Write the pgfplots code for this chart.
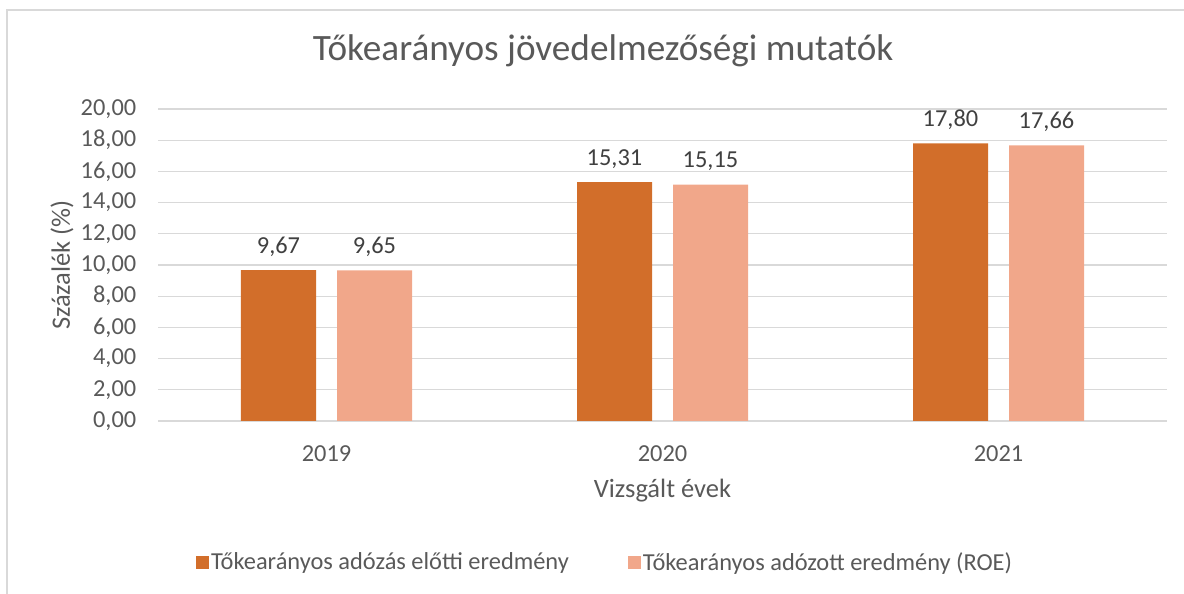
\documentclass[border=0pt]{standalone}
\usepackage{pgfplots}
\pgfplotsset{compat=1.18}
\usepackage{fontspec}
\setmainfont{Carlito}
\definecolor{txt}{HTML}{595959}
\definecolor{lbl}{HTML}{404040}
\definecolor{gridc}{HTML}{D9D9D9}
\definecolor{orA}{HTML}{D26E2A}
\definecolor{orB}{HTML}{F1A78A}
\begin{document}
\begin{tikzpicture}[x=1pt,y=1pt]
\path[use as bounding box] (0,0) rectangle (1184,594);
\draw[gridc, line width=1.2pt] (7,0) -- (7,584) -- (1184,584);
\begin{axis}[
  at={(158.5pt,173pt)}, anchor=south west,
  scale only axis, width=1008pt, height=312pt,
  xmin=-0.5, xmax=2.5, ymin=0, ymax=20,
  ybar=21pt, bar width=75pt,
  xtick={0,1,2}, xticklabels={2019,2020,2021},
  ytick={0,2,...,20},
  ymajorgrids, xmajorgrids=false, major grid style={draw=gridc, line width=1.3pt},
  axis line style={draw=none},
  major tick length=0pt,
  tick label style={font=\fontsize{24.4}{29}\selectfont, text=txt},
  /pgf/number format/assume math mode=true,
  yticklabel style={/pgf/number format/fixed, /pgf/number format/fixed zerofill, /pgf/number format/precision=2, /pgf/number format/use comma,
    anchor=east, inner sep=0pt, xshift=-22pt},
  xticklabel style={anchor=north, inner sep=0pt, yshift=-24pt},
  xlabel={Vizsgált évek},
  xlabel style={at={(axis description cs:0.5,-0.2468)}, anchor=base, font=\fontsize{26.5}{31}\selectfont, text=txt, inner sep=0pt},
  ylabel={Százalék (\%)},
  ylabel style={at={(axis description cs:-0.0878,0.5)}, anchor=base, font=\fontsize{26.5}{31}\selectfont, text=txt, inner sep=0pt},
  title={Tőkearányos jövedelmezőségi mutatók},
  title style={at={(axis description cs:0.441,1.1346)}, anchor=base, font=\fontsize{37.2}{44}\selectfont, text=txt, inner sep=0pt},
  nodes near coords,
  nodes near coords style={anchor=base, yshift=17pt, inner sep=0pt, font=\fontsize{24.4}{29}\selectfont, text=lbl,
    /pgf/number format/fixed, /pgf/number format/fixed zerofill, /pgf/number format/precision=2, /pgf/number format/use comma, /pgf/number format/assume math mode=true},
  legend columns=2,
  legend style={at={(axis description cs:0.443,-0.452)}, anchor=center, draw=none, fill=none,
    font=\fontsize{24.4}{29}\selectfont, text=txt,
    /tikz/every even column/.append style={column sep=57pt}},
  legend image code/.code={\fill[#1] (0pt,-6.5pt) rectangle (13pt,6.5pt);},
]
\addplot[fill=orA, draw=none] coordinates {(0,9.67) (1,15.31) (2,17.80)};
\addplot[fill=orB, draw=none] coordinates {(0,9.65) (1,15.15) (2,17.66)};
\legend{Tőkearányos adózás előtti eredmény, Tőkearányos adózott eredmény (ROE)}
\end{axis}
\end{tikzpicture}
\end{document}
